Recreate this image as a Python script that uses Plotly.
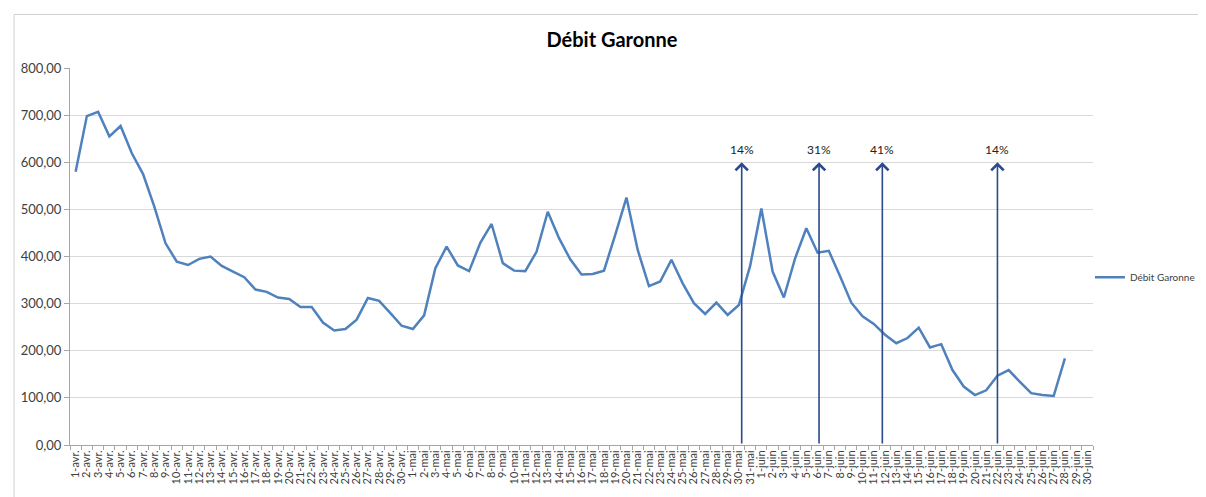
import plotly.graph_objects as go

# ---- data ----
days_avr = [f"{d}-avr." for d in range(1, 31)]
days_mai = [f"{d}-mai" for d in range(1, 32)]
days_juin = [f"{d}-juin" for d in range(1, 31)]
categories = days_avr + days_mai + days_juin

debit_avr = [580, 698, 707, 655, 677, 619, 575, 506, 428, 389,
             382, 395, 400, 380, 368, 356, 330, 325, 313, 310,
             293, 293, 260, 243, 246, 266, 312, 306, 280, 253]
debit_mai = [246, 275, 375, 421, 381, 369, 429, 469, 386, 370,
             369, 410, 495, 439, 394, 362, 363, 370, 446, 525,
             414, 337, 347, 393, 343, 301, 278, 302, 276, 297,
             380]
debit_juin = [502, 368, 313, 396, 460, 408, 412, 358, 302, 273,
              257, 234, 216, 227, 249, 207, 214, 159, 124, 106,
              116, 147, 159, 134, 110, 106, 104, 184, None, None]
debit = debit_avr + debit_mai + debit_juin

# arrows (position on category index scale) and their labels
arrow_pos = [59.25, 66.13, 71.76, 82.0]
arrow_labels = ["14%", "31%", "41%", "14%"]
arrow_top = 600

x_idx = list(range(len(categories)))

FONT = "Lato, Liberation Sans, sans-serif"

fig = go.Figure()
fig.add_trace(go.Scatter(
    x=x_idx, y=debit, mode="lines", name="Débit Garonne",
    line=dict(color="#4F81BD", width=2.5),
    connectgaps=False,
))

for xp, lab in zip(arrow_pos, arrow_labels):
    fig.add_annotation(
        x=xp, y=arrow_top, ax=xp, ay=0, xref="x", yref="y",
        axref="x", ayref="y", text="", showarrow=True,
        arrowhead=4, arrowsize=1.5, arrowwidth=1.6, arrowcolor="#2B4A8B",
    )
    fig.add_annotation(
        x=xp, y=arrow_top, xref="x", yref="y", text=lab, showarrow=False,
        yanchor="bottom", yshift=3,
        font=dict(family=FONT, size=12, color="#222222"),
    )

# outer chart border
fig.add_shape(type="rect", xref="paper", yref="paper",
              x0=-0.0547, x1=1.1066, y0=-0.16, y1=1.142,
              line=dict(color="#D0D0D0", width=1), fillcolor="rgba(0,0,0,0)",
              layer="below")

# page body has an 8px margin: figure is sized/offset to compensate
W, H = 1198, 489
fig.update_layout(
    width=W, height=H,
    margin=dict(l=62, r=113, t=60, b=52, autoexpand=False),
    paper_bgcolor="white", plot_bgcolor="white",
    separators=", ",
    title=dict(text="<b>Débit Garonne</b>", x=604 / W, xref="container",
               y=1 - 32 / H, yref="container", xanchor="center", yanchor="middle",
               font=dict(family=FONT, size=20, color="#000000")),
    font=dict(family=FONT, color="#404040"),
    showlegend=True,
    legend=dict(x=0.997, xanchor="left", y=0.445, yanchor="middle",
                itemwidth=30,
                font=dict(size=10, color="#404040"), bgcolor="rgba(0,0,0,0)"),
    xaxis=dict(
        range=[-0.5, len(categories) - 0.5], automargin=False,
        tickmode="array", tickvals=x_idx, ticktext=categories,
        tickangle=-90, ticks="", showgrid=False,
        tickfont=dict(size=11, color="#404040"),
        showline=True, linecolor="#A6A6A6", linewidth=1,
        minor=dict(tickmode="array", tickvals=[i - 0.5 for i in range(len(categories) + 1)],
                   ticks="outside", ticklen=4, tickcolor="#A6A6A6", showgrid=False),
        zeroline=False,
    ),
    yaxis=dict(
        range=[0, 800], dtick=100, tickformat=".2f", automargin=False,
        showgrid=True, gridcolor="#D9D9D9", gridwidth=1,
        ticks="outside", ticklen=5, tickcolor="#A6A6A6",
        showline=True, linecolor="#A6A6A6", linewidth=1,
        tickfont=dict(size=13, color="#404040"),
        zeroline=False,
    ),
)

fig.write_html("out.html")
